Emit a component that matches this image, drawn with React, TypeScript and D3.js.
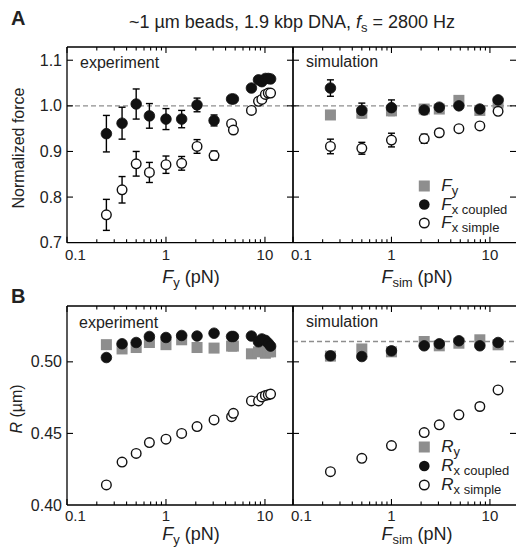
import React from 'react';
import * as d3 from 'd3';

// ---------- data ----------
const expX = [0.25, 0.36, 0.5, 0.68, 1.0, 1.44, 2.06, 3.06, 4.6, 4.8, 7.3, 8.6, 9.3, 10.1, 10.8, 11.4];
const expFcoupled = [0.939, 0.962, 1.004, 0.978, 0.971, 0.971, 1.002, 0.968, 1.015, 1.015, 1.039, 1.057, 1.053, 1.06, 1.06, 1.059];
const expFcoupledErr = [0.04, 0.035, 0.033, 0.027, 0.023, 0.019, 0.015, 0.012, 0.008, 0.008, 0.006, 0.005, 0.005, 0.005, 0.005, 0.005];
const expFsimple = [0.761, 0.816, 0.873, 0.854, 0.871, 0.874, 0.911, 0.891, 0.961, 0.947, 0.99, 1.01, 1.014, 1.025, 1.028, 1.028];
const expFsimpleErr = [0.034, 0.029, 0.027, 0.022, 0.019, 0.015, 0.015, 0.01, 0.008, 0.008, 0.006, 0.005, 0.005, 0.005, 0.005, 0.005];

const simX = [0.24, 0.5, 1.0, 2.15, 3.06, 4.84, 7.9, 12.1];
const simFy = [0.98, 0.984, 0.989, 0.993, 0.993, 1.012, 0.99, 1.006];
const simFcoupled = [1.039, 0.99, 0.996, 0.991, 0.997, 1.0, 0.993, 1.013];
const simFcoupledErr = [0.018, 0.016, 0.017, 0.01, 0.008, 0.006, 0.005, 0.005];
const simFsimple = [0.911, 0.907, 0.925, 0.928, 0.941, 0.95, 0.956, 0.988];
const simFsimpleErr = [0.016, 0.013, 0.015, 0.01, 0.008, 0.006, 0.005, 0.005];

const expRy = [0.512, 0.509, 0.51, 0.5135, 0.512, 0.5154, 0.51, 0.5096, 0.511, 0.511, 0.5056, 0.507, 0.509, 0.506, 0.507, 0.507];
const expRcoupled = [0.503, 0.5126, 0.5135, 0.5177, 0.517, 0.5184, 0.518, 0.52, 0.5177, 0.5177, 0.518, 0.514, 0.516, 0.515, 0.513, 0.511];
const expRsimple = [0.414, 0.43, 0.436, 0.4436, 0.446, 0.45, 0.4548, 0.4594, 0.4617, 0.464, 0.4727, 0.4727, 0.4755, 0.4765, 0.477, 0.4775];

const simRy = [0.504, 0.509, 0.507, 0.5142, 0.5112, 0.513, 0.5154, 0.5119];
const simRcoupled = [0.5042, 0.5037, 0.5077, 0.5112, 0.5126, 0.5147, 0.5112, 0.5135];
const simRsimple = [0.4233, 0.4326, 0.4415, 0.4506, 0.456, 0.463, 0.4688, 0.4804];

const forceTicks = [0.7, 0.8, 0.9, 1.0, 1.1];
const radiusTicks = [0.4, 0.45, 0.5];
const xTickLabels = [0.1, 1, 10];
const refForce = 1.0;
const refRadius = 0.5142;

// ---------- layout ----------
const FONT = "'Liberation Sans', Arial, Helvetica, sans-serif";
const GRAY = '#8e8e8e';
const X0 = 67, XM = 293, X1 = 516;
const xL = d3.scaleLog().domain([0.1, 19.2]).range([X0, XM]);
const xR = d3.scaleLog().domain([0.1, 18.4]).range([XM, X1]);
const yA = d3.scaleLinear().domain([0.7, 1.129]).range([242.7, 47]);
const yB = d3.scaleLinear().domain([0.4, 0.539]).range([505, 306]);

type Scale = d3.ScaleLogarithmic<number, number>;
type YScale = d3.ScaleLinear<number, number>;

const logTicks = (x: Scale) => {
  const [a, b] = x.domain();
  const out: { v: number; major: boolean }[] = [];
  for (let d = 0.1; d <= 100; d *= 10) {
    for (let k = 1; k <= 9; k++) {
      const v = +(d * k).toPrecision(6);
      if (v >= a * 0.999 && v <= b) out.push({ v, major: k === 1 });
    }
  }
  return out;
};

function XAxis({ x, y, top }: { x: Scale; y: YScale; top: number }) {
  const [yb] = y.range();
  return (
    <g stroke="#000" strokeWidth={1.1}>
      {logTicks(x).map((t, i) => {
        const px = x(t.v);
        const L = t.major ? 6 : 3.5;
        return (
          <g key={i}>
            <line x1={px} x2={px} y1={yb} y2={yb - L} />
            <line x1={px} x2={px} y1={top} y2={top + L} />
          </g>
        );
      })}
    </g>
  );
}

function XLabels({ x, y }: { x: Scale; y: number }) {
  return (
    <g fontFamily={FONT} fontSize={15} fill="#222">
      {xTickLabels.map((v, i) => (
        <text key={i} x={x(v) + (i === 0 ? -2 : 0)} y={y} textAnchor={i === 0 ? 'start' : 'middle'}>
          {v}
        </text>
      ))}
    </g>
  );
}

function YTicks({ y, ticks, xl, xr }: { y: YScale; ticks: number[]; xl: number; xr: number }) {
  return (
    <g stroke="#000" strokeWidth={1.1}>
      {ticks.map((t, i) => (
        <g key={i}>
          <line x1={xl} x2={xl + 6} y1={y(t)} y2={y(t)} />
          <line x1={xr} x2={xr - 6} y1={y(t)} y2={y(t)} />
        </g>
      ))}
    </g>
  );
}

function ErrBars({ xs, ys, es, x, y }: { xs: number[]; ys: number[]; es: number[]; x: Scale; y: YScale }) {
  return (
    <g stroke="#000" strokeWidth={1.4}>
      {xs.map((v, i) => {
        const px = x(v);
        const lo = y(ys[i] - es[i]);
        const hi = y(ys[i] + es[i]);
        if (lo - hi < 9) return null;
        return (
          <g key={i}>
            <line x1={px} x2={px} y1={lo} y2={hi} />
            <line x1={px - 3.5} x2={px + 3.5} y1={lo} y2={lo} />
            <line x1={px - 3.5} x2={px + 3.5} y1={hi} y2={hi} />
          </g>
        );
      })}
    </g>
  );
}

function Squares({ xs, ys, x, y }: { xs: number[]; ys: number[]; x: Scale; y: YScale }) {
  return (
    <g fill={GRAY}>
      {xs.map((v, i) => (
        <rect key={i} x={x(v) - 5.5} y={y(ys[i]) - 5.5} width={11} height={11} />
      ))}
    </g>
  );
}

function Dots({ xs, ys, x, y, open }: { xs: number[]; ys: number[]; x: Scale; y: YScale; open?: boolean }) {
  return (
    <g fill={open ? '#fff' : '#111'} stroke="#111" strokeWidth={open ? 1.4 : 0.8}>
      {xs.map((v, i) => (
        <circle key={i} cx={x(v)} cy={y(ys[i])} r={open ? 4.8 : 5.3} />
      ))}
    </g>
  );
}

function Legend({ x, ys, letter }: { x: number; ys: number[]; letter: string }) {
  const subs = ['y', 'x coupled', 'x simple'];
  return (
    <g fontFamily={FONT}>
      <rect x={x - 5.5} y={ys[0] - 5.5} width={11} height={11} fill={GRAY} />
      <circle cx={x} cy={ys[1]} r={5.3} fill="#111" />
      <circle cx={x} cy={ys[2]} r={4.8} fill="#fff" stroke="#111" strokeWidth={1.4} />
      {subs.map((s, i) => (
        <text key={i} x={x + 17} y={ys[i] + 5} fontSize={17} fill="#222">
          <tspan fontStyle="italic">{letter}</tspan>
          <tspan fontSize={13} dy={4}>{s}</tspan>
        </text>
      ))}
    </g>
  );
}

function Frame({ top, bottom }: { top: number; bottom: number }) {
  return (
    <g fill="none" stroke="#000">
      <line x1={X0} x2={X1} y1={top} y2={top} strokeWidth={1.3} />
      <line x1={X0} x2={X1} y1={bottom} y2={bottom} strokeWidth={1.3} />
      <line x1={X0} x2={X0} y1={top} y2={bottom} strokeWidth={1.3} />
      <line x1={XM} x2={XM} y1={top} y2={bottom} strokeWidth={1.7} />
    </g>
  );
}

function AxisTitle({ x, y, sub }: { x: number; y: number; sub: string }) {
  return (
    <text x={x} y={y} fontFamily={FONT} fontSize={18} fill="#222" textAnchor="middle">
      <tspan fontStyle="italic">F</tspan>
      <tspan fontSize={13} dy={3.5}>{sub}</tspan>
      <tspan dy={-3.5}> (pN)</tspan>
    </text>
  );
}

export default function App() {
  return (
    <svg width={516} height={547} style={{ position: 'absolute', left: 0, top: 0, background: '#fff' }}>
      <rect width={516} height={547} fill="#fff" />
      <text x={11} y={25} fontFamily={FONT} fontWeight="bold" fontSize={20} fill="#222">A</text>
      <text x={11} y={303} fontFamily={FONT} fontWeight="bold" fontSize={20} fill="#222">B</text>
      <text x={292} y={28} fontFamily={FONT} fontSize={18} fill="#222" textAnchor="middle">
        ~1 µm beads, 1.9 kbp DNA, <tspan fontStyle="italic">f</tspan>
        <tspan fontSize={13} dy={4}>s</tspan>
        <tspan dy={-4}> = 2800 Hz</tspan>
      </text>

      {/* ---------- Panel A ---------- */}
      <line x1={X0} x2={X1} y1={yA(refForce)} y2={yA(refForce)} stroke={GRAY} strokeWidth={1.3} strokeDasharray="5,3" />
      <Frame top={47} bottom={242.7} />
      <XAxis x={xL} y={yA} top={47} />
      <XAxis x={xR} y={yA} top={47} />
      <YTicks y={yA} ticks={forceTicks.slice(1)} xl={X0} xr={XM} />
      <YTicks y={yA} ticks={forceTicks.slice(1)} xl={XM} xr={X1} />
      <g fontFamily={FONT} fontSize={16} fill="#222" textAnchor="end">
        {forceTicks.map((t, i) => (
          <text key={i} x={62} y={yA(t) + 5.5}>{t.toFixed(1)}</text>
        ))}
      </g>
      <text transform="translate(24,148) rotate(-90)" fontFamily={FONT} fontSize={16} fill="#222" textAnchor="middle">
        Normalized force
      </text>
      <text x={80} y={68} fontFamily={FONT} fontSize={16} fill="#222">experiment</text>
      <text x={306} y={67} fontFamily={FONT} fontSize={16} fill="#222">simulation</text>

      <ErrBars xs={expX} ys={expFcoupled} es={expFcoupledErr} x={xL} y={yA} />
      <ErrBars xs={expX} ys={expFsimple} es={expFsimpleErr} x={xL} y={yA} />
      <Dots xs={expX} ys={expFcoupled} x={xL} y={yA} />
      <Dots xs={expX} ys={expFsimple} x={xL} y={yA} open />

      <ErrBars xs={simX} ys={simFcoupled} es={simFcoupledErr} x={xR} y={yA} />
      <ErrBars xs={simX} ys={simFsimple} es={simFsimpleErr} x={xR} y={yA} />
      <Squares xs={simX} ys={simFy} x={xR} y={yA} />
      <Dots xs={simX} ys={simFcoupled} x={xR} y={yA} />
      <Dots xs={simX} ys={simFsimple} x={xR} y={yA} open />

      <Legend x={424.3} ys={[186, 204.5, 223]} letter="F" />

      <XLabels x={xL} y={260} />
      <XLabels x={xR} y={260} />
      <AxisTitle x={191} y={283} sub="y" />
      <AxisTitle x={417} y={283} sub="sim" />

      {/* ---------- Panel B ---------- */}
      <line x1={XM} x2={X1} y1={yB(refRadius)} y2={yB(refRadius)} stroke={GRAY} strokeWidth={1.3} strokeDasharray="5,3" />
      <Frame top={306} bottom={505} />
      <XAxis x={xL} y={yB} top={306} />
      <XAxis x={xR} y={yB} top={306} />
      <YTicks y={yB} ticks={radiusTicks.slice(1)} xl={X0} xr={XM} />
      <YTicks y={yB} ticks={radiusTicks.slice(1)} xl={XM} xr={X1} />
      <g fontFamily={FONT} fontSize={16} fill="#222" textAnchor="end">
        {radiusTicks.map((t, i) => (
          <text key={i} x={62} y={yB(t) + 5.5}>{t.toFixed(2)}</text>
        ))}
      </g>
      <text transform="translate(22,409) rotate(-90)" fontFamily={FONT} fontSize={16} fill="#222" textAnchor="middle">
        <tspan fontStyle="italic">R</tspan> (µm)
      </text>
      <text x={79} y={328} fontFamily={FONT} fontSize={16} fill="#222">experiment</text>
      <text x={306} y={327} fontFamily={FONT} fontSize={16} fill="#222">simulation</text>

      <Squares xs={expX} ys={expRy} x={xL} y={yB} />
      <Dots xs={expX} ys={expRcoupled} x={xL} y={yB} />
      <Dots xs={expX} ys={expRsimple} x={xL} y={yB} open />

      <Squares xs={simX} ys={simRy} x={xR} y={yB} />
      <Dots xs={simX} ys={simRcoupled} x={xR} y={yB} />
      <Dots xs={simX} ys={simRsimple} x={xR} y={yB} open />

      <Legend x={424.3} ys={[447, 466, 485]} letter="R" />

      <XLabels x={xL} y={521} />
      <XLabels x={xR} y={521} />
      <AxisTitle x={191} y={540} sub="y" />
      <AxisTitle x={417} y={540} sub="sim" />
    </svg>
  );
}
